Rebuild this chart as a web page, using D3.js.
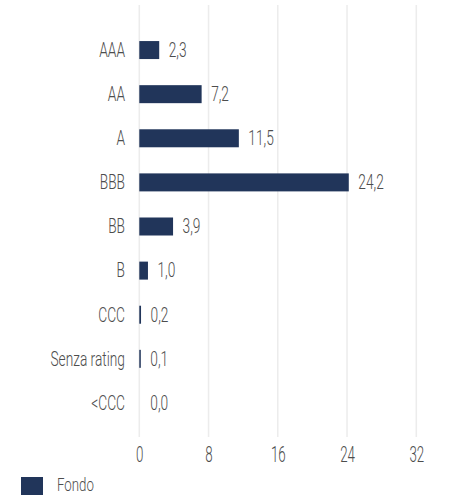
<html>
  <head>
    <script src="https://cdn.jsdelivr.net/npm/d3@7"></script>
    <style>
      body { margin: 0; background: #fff; }
      text { font-family: Roboto, "Liberation Sans", sans-serif; font-weight: 300; fill: #4d4d4d; }
    </style>
  </head>
  <body>
    <div id="chart"></div>
    <script>
      // ratings and fund weights (%)
      let categories = ["AAA", "AA", "A", "BBB", "BB", "B", "CCC", "Senza rating", "<CCC"];
      let values = [2.3, 7.2, 11.5, 24.2, 3.9, 1.0, 0.2, 0.1, 0.0];
      let xTicks = [0, 8, 16, 24, 32];
      let seriesName = "Fondo";

      let width = 457, height = 495;
      let barColor = "#21355a";
      let squeeze = 0.67; // condensed look

      let svg = d3.select("#chart").append("svg")
        .attr("width", width).attr("height", height);

      let x = d3.scaleLinear().domain([0, 32]).range([139.3, 416.3]);
      let y = d3.scaleBand().domain(categories).range([28, 425])
        .paddingInner(0.592).paddingOuter(0.296);

      let fmt = (v) => v.toFixed(1).replace(".", ",");

      // gridlines
      svg.append("g").selectAll("line").data(xTicks).enter().append("line")
        .attr("x1", (d) => x(d)).attr("x2", (d) => x(d))
        .attr("y1", 5).attr("y2", 437)
        .attr("stroke", "#ececec").attr("stroke-width", 1.5);

      // x axis labels
      let xAxis = d3.axisBottom(x).tickValues(xTicks).tickSize(0).tickPadding(0);
      let xg = svg.append("g").attr("transform", "translate(0,462)").call(xAxis);
      xg.select(".domain").remove();
      xg.selectAll("text")
        .attr("y", 0).attr("dy", 0).attr("x", 0)
        .attr("transform", "scale(0.62,1)")
        .style("font-size", "21.5px").attr("fill", "#4d4d4d");

      // category labels
      svg.append("g").selectAll("text").data(categories).enter().append("text")
        .attr("transform", (d) => "translate(125," + (y(d) + y.bandwidth() / 2 + 6.8) + ") scale(" + squeeze + ",1)")
        .attr("text-anchor", "end")
        .style("font-size", "20.5px")
        .text((d) => d);

      // bars
      svg.append("g").selectAll("rect").data(values).enter().append("rect")
        .attr("x", x(0))
        .attr("y", (d, i) => y(categories[i]))
        .attr("width", (d) => Math.max(x(d) - x(0), d > 0 ? 1.5 : 0))
        .attr("height", y.bandwidth())
        .attr("fill", barColor);

      // value labels
      svg.append("g").selectAll("text").data(values).enter().append("text")
        .attr("transform", (d, i) => "translate(" + (Math.max(x(d), x(0) + 1.5) + 9.5) + "," + (y(categories[i]) + y.bandwidth() / 2 + 6.8) + ") scale(" + squeeze + ",1)")
        .style("font-size", "20.5px")
        .text((d) => fmt(d));

      // legend
      let legend = svg.append("g");
      legend.append("rect").attr("x", 21).attr("y", 477).attr("width", 22).attr("height", 18).attr("fill", barColor);
      legend.append("text")
        .attr("transform", "translate(57,491) scale(0.7,1)")
        .style("font-size", "19px")
        .text(seriesName);
    </script>
  </body>
</html>
